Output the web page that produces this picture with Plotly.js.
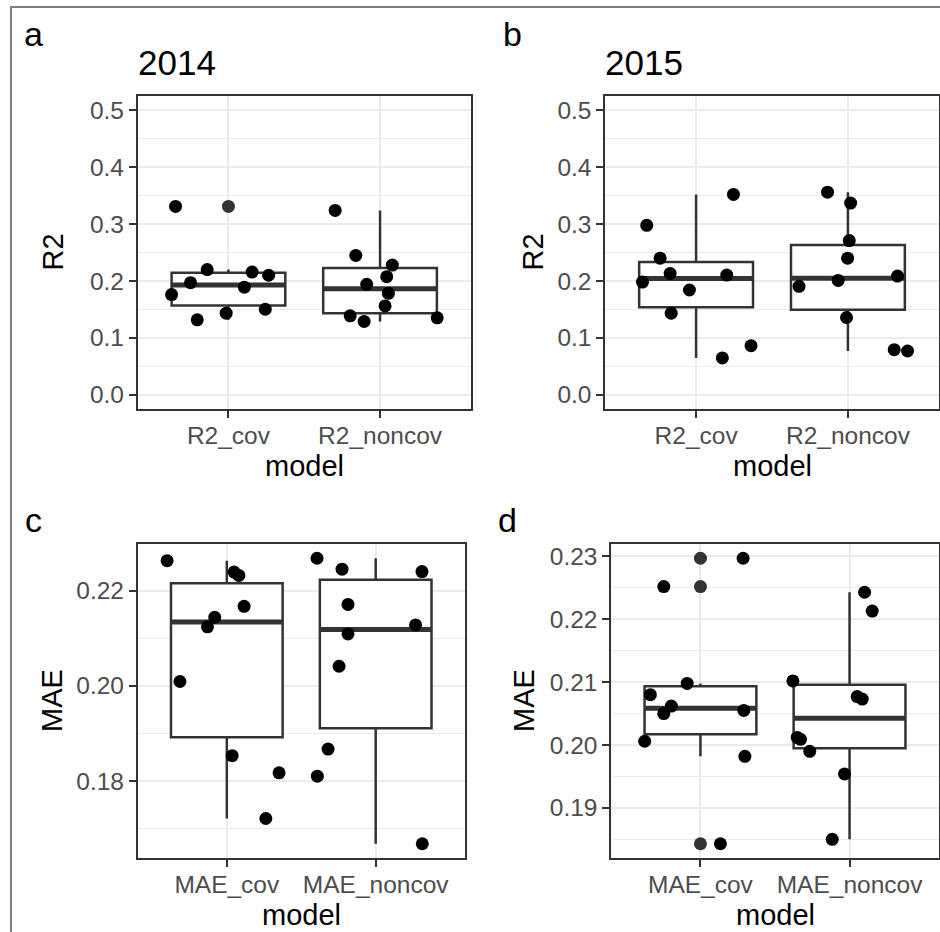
<!DOCTYPE html>
<html>
<head>
<meta charset="utf-8">
<script src="https://cdn.plot.ly/plotly-3.0.1.min.js"></script>
<style>
  html, body { margin: 0; padding: 0; background: #fff; }
  #chart { width: 940px; height: 932px; }
</style>
</head>
<body>
<div id="chart"></div>
<script>
// Model labels on the x axes
const r2Models = ['R2_cov', 'R2_noncov'];
const maeModels = ['MAE_cov', 'MAE_noncov'];

// R2 per run, 2014
const r2_2014_cov    = [0.331, 0.220, 0.197, 0.176, 0.2156, 0.210, 0.189, 0.1317, 0.1434, 0.1503];
const r2_2014_noncov = [0.324, 0.2448, 0.2279, 0.2075, 0.194, 0.1783, 0.1562, 0.1387, 0.1288, 0.1352];
// R2 per run, 2015
const r2_2015_cov    = [0.2978, 0.352, 0.240, 0.2133, 0.198, 0.2104, 0.1841, 0.1434, 0.0647, 0.0862];
const r2_2015_noncov = [0.356, 0.3368, 0.271, 0.240, 0.201, 0.1906, 0.2086, 0.1358, 0.0793, 0.0769];
// MAE per run, 2014
const mae_2014_cov    = [0.2263, 0.2239, 0.2232, 0.2167, 0.2144, 0.2124, 0.2009, 0.1853, 0.1817, 0.1721];
const mae_2014_noncov = [0.2268, 0.2245, 0.2240, 0.2171, 0.2128, 0.2109, 0.2041, 0.1867, 0.1810, 0.1668];
// MAE per run, 2015
const mae_2015_cov    = [0.2297, 0.2252, 0.2098, 0.2080, 0.2062, 0.2050, 0.2055, 0.2006, 0.1982, 0.1843];
const mae_2015_noncov = [0.2243, 0.2213, 0.2102, 0.2077, 0.2073, 0.2012, 0.2009, 0.1990, 0.1954, 0.1850];

// Horizontal jitter of each point, in units of category spacing
const jit_r2_2014_cov    = [-0.349, -0.140, -0.250, -0.375, 0.156, 0.265, 0.105, -0.206, -0.015, 0.243];
const jit_r2_2014_noncov = [-0.296, -0.160, 0.081, 0.044, -0.088, 0.055, 0.033, -0.197, -0.105, 0.377];
const jit_r2_2015_cov    = [-0.325, 0.246, -0.237, -0.171, -0.353, 0.202, -0.044, -0.164, 0.173, 0.362];
const jit_r2_2015_noncov = [-0.134, 0.018, 0.009, -0.002, -0.064, -0.322, 0.327, -0.009, 0.305, 0.393];
const jit_mae_2014_cov    = [-0.401, 0.049, 0.081, 0.116, -0.081, -0.130, -0.315, 0.036, 0.351, 0.262];
const jit_mae_2014_noncov = [-0.394, -0.226, 0.311, -0.186, 0.268, -0.186, -0.246, -0.320, -0.392, 0.313];
const jit_mae_2015_cov    = [0.286, -0.246, -0.089, -0.336, -0.195, -0.246, 0.291, -0.374, 0.298, 0.134];
const jit_mae_2015_noncov = [0.101, 0.152, -0.380, 0.051, 0.085, -0.351, -0.329, -0.267, -0.034, -0.116];

// ---- helpers ----
const W = 940, H = 932;
const px = v => v / W;
const py = v => 1 - v / H;
const FONT = 'Liberation Sans, Arial, Helvetica, sans-serif';
const DARK = '#333333';

// type-7 quantile (same as R's default)
function quantile(sorted, p) {
  const h = (sorted.length - 1) * p;
  const lo = Math.floor(h), hi = Math.ceil(h);
  return sorted[lo] + (h - lo) * (sorted[hi] - sorted[lo]);
}
function boxStats(vals) {
  const s = vals.slice().sort((a, b) => a - b);
  const q1 = quantile(s, 0.25), med = quantile(s, 0.5), q3 = quantile(s, 0.75);
  const iqr = q3 - q1;
  const lo = q1 - 1.5 * iqr, hi = q3 + 1.5 * iqr;
  const inside = s.filter(v => v >= lo && v <= hi);
  return { q1, med, q3, lf: inside[0], uf: inside[inside.length - 1],
           out: s.filter(v => v < lo || v > hi) };
}

const panels = [
  { id: '',  tag: 'a', title: '2014', ytitle: 'R2',  models: r2Models,
    groups: [r2_2014_cov, r2_2014_noncov], jit: [jit_r2_2014_cov, jit_r2_2014_noncov],
    limits: [0, 0.5], dtick: 0.1, fmt: '.1f',
    dom: { x0: 137.5, x1: 471, y0: 96, y1: 409 }, tagX: 22, ytX: 52 },
  { id: '2', tag: 'b', title: '2015', ytitle: 'R2',  models: r2Models,
    groups: [r2_2015_cov, r2_2015_noncov], jit: [jit_r2_2015_cov, jit_r2_2015_noncov],
    limits: [0, 0.5], dtick: 0.1, fmt: '.1f',
    dom: { x0: 605, x1: 939, y0: 96, y1: 409 }, tagX: 501, ytX: 532 },
  { id: '3', tag: 'c', title: '', ytitle: 'MAE', models: maeModels,
    groups: [mae_2014_cov, mae_2014_noncov], jit: [jit_mae_2014_cov, jit_mae_2014_noncov],
    limits: null, dtick: 0.02, fmt: '.2f',
    dom: { x0: 137.5, x1: 465, y0: 544, y1: 858 }, tagX: 23, ytX: 52 },
  { id: '4', tag: 'd', title: '', ytitle: 'MAE', models: maeModels,
    groups: [mae_2015_cov, mae_2015_noncov], jit: [jit_mae_2015_cov, jit_mae_2015_noncov],
    limits: null, dtick: 0.01, fmt: '.2f',
    dom: { x0: 611, x1: 939, y0: 544, y1: 858 }, tagX: 496, ytX: 524 }
];

const traces = [];
const layout = {
  width: W, height: H,
  margin: { l: 0, r: 0, t: 0, b: 0, pad: 0 },
  paper_bgcolor: '#ffffff', plot_bgcolor: '#ffffff',
  showlegend: false, boxmode: 'overlay',
  font: { family: FONT, color: '#000000' },
  annotations: [],
  shapes: [
    // outer frame (left and top edges)
    { type: 'line', xref: 'paper', yref: 'paper', x0: px(11), x1: px(11), y0: py(7), y1: py(940),
      line: { color: '#7f7f7f', width: 2 } },
    { type: 'line', xref: 'paper', yref: 'paper', x0: px(10), x1: px(950), y0: py(7), y1: py(7),
      line: { color: '#7f7f7f', width: 2 } }
  ]
};

panels.forEach(p => {
  const xa = 'x' + p.id, ya = 'y' + p.id;
  const all = p.groups.flat();
  const lim = p.limits || [Math.min(...all), Math.max(...all)];
  const pad = 0.05 * (lim[1] - lim[0]);

  p.groups.forEach((vals, i) => {
    const s = boxStats(vals);
    traces.push({
      type: 'box', xaxis: xa, yaxis: ya, x: [i],
      q1: [s.q1], median: [s.med], q3: [s.q3], lowerfence: [s.lf], upperfence: [s.uf],
      width: 0.75, whiskerwidth: 0, boxpoints: false,
      fillcolor: '#ffffff', line: { color: DARK, width: 2.5 }, hoverinfo: 'skip'
    });
    // heavier median bar
    traces.push({
      type: 'scatter', mode: 'lines', xaxis: xa, yaxis: ya,
      x: [i - 0.375, i + 0.375], y: [s.med, s.med],
      line: { color: DARK, width: 5 }, hoverinfo: 'skip'
    });
    // outliers drawn by the box layer
    traces.push({
      type: 'scatter', mode: 'markers', xaxis: xa, yaxis: ya,
      x: s.out.map(() => i), y: s.out,
      marker: { size: 13, color: DARK }, hoverinfo: 'skip'
    });
    // jittered observations
    traces.push({
      type: 'scatter', mode: 'markers', xaxis: xa, yaxis: ya,
      x: vals.map((v, k) => i + p.jit[i][k]), y: vals,
      marker: { size: 13, color: '#000000' }, hoverinfo: 'skip'
    });
  });

  const d = p.dom;
  layout['xaxis' + p.id] = {
    domain: [px(d.x0), px(d.x1)], anchor: ya,
    range: [-0.6, 1.6], tickmode: 'array', tickvals: [0, 1], ticktext: p.models,
    showline: true, mirror: true, linecolor: DARK, linewidth: 1.6,
    ticks: 'outside', ticklen: 7, tickwidth: 2, tickcolor: DARK, ticklabelstandoff: -3,
    showgrid: true, gridcolor: '#EBEBEB', gridwidth: 2, zeroline: false,
    tickfont: { family: FONT, size: 24.5, color: '#4D4D4D' }, fixedrange: true
  };
  layout['yaxis' + p.id] = {
    domain: [py(d.y1), py(d.y0)], anchor: xa,
    range: [lim[0] - pad, lim[1] + pad], tick0: 0, dtick: p.dtick, tickformat: p.fmt,
    showline: true, mirror: true, linecolor: DARK, linewidth: 1.6,
    ticks: 'outside', ticklen: 7, tickwidth: 2, tickcolor: DARK,
    showgrid: true, gridcolor: '#EBEBEB', gridwidth: 2, zeroline: false,
    minor: { dtick: p.dtick / 2, tick0: 0, showgrid: true, gridcolor: '#EBEBEB', gridwidth: 1 },
    tickfont: { family: FONT, size: 24.5, color: '#4D4D4D' }, fixedrange: true
  };

  const ann = (text, x, y, opts) => layout.annotations.push(Object.assign({
    text, xref: 'paper', yref: 'paper', x: px(x), y: py(y),
    showarrow: false, xanchor: 'left', yanchor: 'middle',
    font: { family: FONT, size: 29, color: '#000000' }
  }, opts || {}));

  // panel tag
  ann(p.tag, p.tagX, d.y0 - (p.title ? 62.5 : 24), { font: { family: FONT, size: 34, color: '#000' } });
  // panel title
  if (p.title) ann(p.title, d.x0 - 2, 62.5, { font: { family: FONT, size: 35, color: '#000' } });
  // y-axis title
  ann(p.ytitle, p.ytX, (d.y0 + d.y1) / 2, { xanchor: 'center', textangle: -90 });
  // x-axis title
  ann('model', (d.x0 + d.x1) / 2, d.y1 + 57, { xanchor: 'center' });
});

Plotly.newPlot('chart', traces, layout, { staticPlot: true, displayModeBar: false });
</script>
</body>
</html>
